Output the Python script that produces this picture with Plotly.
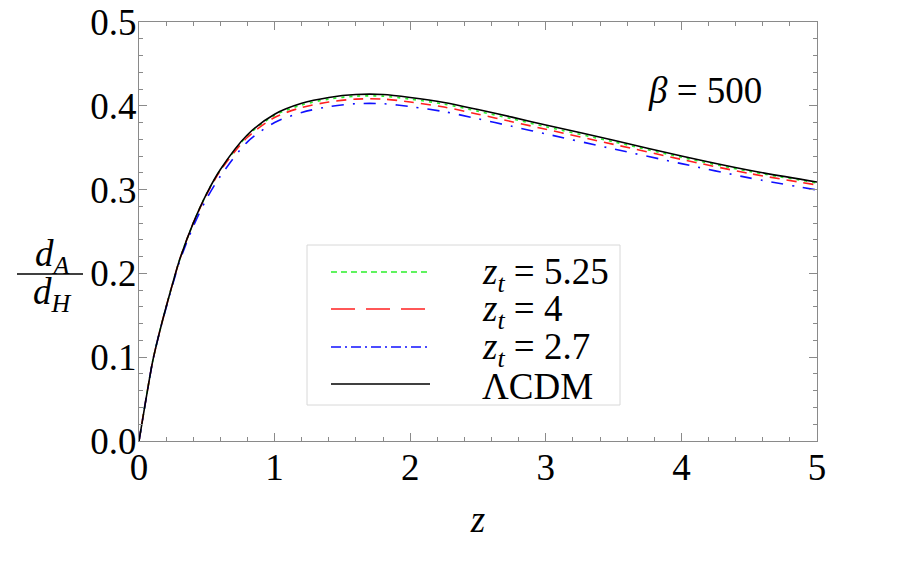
import plotly.graph_objects as go

# ---- data ----
z = [0, 0.05, 0.1, 0.15, 0.2, 0.25, 0.3, 0.4, 0.5, 0.6, 0.8, 1.0, 1.2, 1.4,
     1.6, 1.8, 2.0, 2.25, 2.5, 2.75, 3.0, 3.5, 4.0, 4.5, 5.0]
lcdm = [0, 0.0485, 0.0945, 0.129, 0.160, 0.189, 0.2165, 0.260, 0.2955, 0.324,
        0.3655, 0.390, 0.403, 0.410, 0.4135, 0.4135, 0.410, 0.404, 0.3955,
        0.3865, 0.377, 0.359, 0.340, 0.323, 0.309]
zt525 = [0, 0.0485, 0.0945, 0.129, 0.160, 0.189, 0.2165, 0.260, 0.2955, 0.3235,
         0.3645, 0.3885, 0.401, 0.408, 0.4115, 0.4115, 0.408, 0.402, 0.3935,
         0.3845, 0.375, 0.357, 0.3385, 0.3217, 0.308]
zt4 = [0, 0.0485, 0.0945, 0.129, 0.160, 0.189, 0.2165, 0.260, 0.2945, 0.3225,
       0.3625, 0.386, 0.398, 0.4045, 0.408, 0.408, 0.4045, 0.3985, 0.390,
       0.381, 0.372, 0.354, 0.336, 0.3193, 0.3055]
zt27 = [0, 0.0485, 0.0945, 0.129, 0.159, 0.1875, 0.2145, 0.256, 0.2895, 0.316,
        0.357, 0.380, 0.392, 0.399, 0.4025, 0.4025, 0.399, 0.393, 0.3845,
        0.3755, 0.3665, 0.3485, 0.331, 0.314, 0.2995]

x_ticks = [0, 1, 2, 3, 4, 5]
y_ticks = [0.0, 0.1, 0.2, 0.3, 0.4, 0.5]

legend_labels = ["<i>z</i><sub><i>t</i></sub> = 5.25",
                 "<i>z</i><sub><i>t</i></sub> = 4",
                 "<i>z</i><sub><i>t</i></sub> = 2.7",
                 "ΛCDM"]

GREEN = "#2bf02b"
RED = "#ff2020"
BLUE = "#1010ff"
BLACK = "#000000"
FONT = "Liberation Serif, Times New Roman, serif"
FS = 37

series = [
    (zt525, GREEN, "3px,5px"),
    (zt4, RED, "10px,7px"),
    (zt27, BLUE, "12px,9px,2px,9px"),
    (lcdm, BLACK, "solid"),
]

fig = go.Figure()
for ys, col, dash in series:
    fig.add_trace(go.Scatter(x=z, y=ys, mode="lines",
                             line=dict(color=col, width=1.6, dash=dash,
                                       shape="spline", smoothing=0.8),
                             showlegend=False, hoverinfo="skip"))

W, H = 913, 571
L, R, T, B = 139, 817, 22, 441  # plot area in page pixels


def px(xp):
    return (xp - L) / (R - L)


def py(yp):
    return (B - yp) / (B - T)


axis_common = dict(
    showline=True, linecolor="#8a8a8a", linewidth=1.2, mirror="ticks",
    ticks="inside", ticklen=8, tickwidth=1, tickcolor="#8a8a8a",
    showgrid=False, zeroline=False, automargin=False, ticklabeloverflow="allow",
    tickfont=dict(family=FONT, size=FS, color="black"),
)

fig.update_layout(
    width=W, height=H,
    margin=dict(l=L, r=W - R, t=T, b=H - B),
    plot_bgcolor="white", paper_bgcolor="white",
    font=dict(family=FONT),
    xaxis=dict(range=[0, 5], tickvals=x_ticks, ticktext=[str(v) for v in x_ticks],
               minor=dict(dtick=0.2, ticklen=4, tickcolor="#8a8a8a", ticks="inside"),
               ticklabelstandoff=-7,
               title=dict(text="<i>z</i>", font=dict(family=FONT, size=FS, color="black"),
                          standoff=19),
               **axis_common),
    yaxis=dict(range=[0, 0.5], tickvals=y_ticks, ticktext=["%.1f" % v for v in y_ticks],
               minor=dict(dtick=0.02, ticklen=4, tickcolor="#8a8a8a", ticks="inside"),
               ticklabelstandoff=-6,
               **axis_common),
    showlegend=False,
)

shapes = []
annotations = []

# legend box
shapes.append(dict(type="rect", xref="paper", yref="paper",
                   x0=px(307), x1=px(620), y0=py(405), y1=py(245),
                   line=dict(color="#d8d8d8", width=1), fillcolor="white",
                   layer="above"))
leg_dash = ["6px,4px", "24px,11px", "10px,4px,2px,4px", "solid"]
leg_rows = [272, 309, 347, 384]
leg_cols = [GREEN, RED, BLUE, BLACK]
for i in range(4):
    shapes.append(dict(type="line", xref="paper", yref="paper",
                       x0=px(331), x1=px(430), y0=py(leg_rows[i]), y1=py(leg_rows[i]),
                       line=dict(color=leg_cols[i], width=1.5, dash=leg_dash[i]),
                       layer="above"))
    annotations.append(dict(text=legend_labels[i], xref="paper", yref="paper",
                            x=px(480), y=py(leg_rows[i] + 2), xanchor="left",
                            yanchor="middle", showarrow=False,
                            font=dict(family=FONT, size=FS, color="black")))

# beta label
annotations.append(dict(text="<i>β</i> = 500", xref="paper", yref="paper",
                        x=px(705), y=py(90), xanchor="center", yanchor="middle",
                        showarrow=False, font=dict(family=FONT, size=FS, color="black")))

# y-axis label as fraction
annotations.append(dict(text="<i>d</i><sub><i>A</i></sub>", xref="paper", yref="paper",
                        x=px(52), y=py(256), xanchor="center", yanchor="middle",
                        showarrow=False, font=dict(family=FONT, size=FS, color="black")))
annotations.append(dict(text="<i>d</i><sub><i>H</i></sub>", xref="paper", yref="paper",
                        x=px(52), y=py(294), xanchor="center", yanchor="middle",
                        showarrow=False, font=dict(family=FONT, size=FS, color="black")))
shapes.append(dict(type="line", xref="paper", yref="paper",
                   x0=px(17), x1=px(83), y0=py(274), y1=py(274),
                   line=dict(color="black", width=1.5)))

fig.update_layout(shapes=shapes, annotations=annotations)
fig.write_html("out.html",
               config={"displayModeBar": False},
               post_script="document.body.style.margin='0px';")
